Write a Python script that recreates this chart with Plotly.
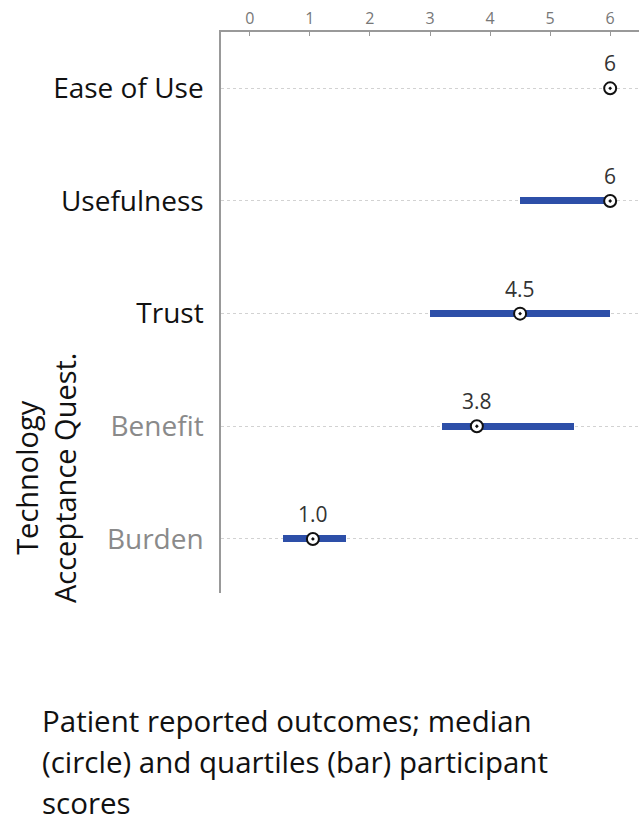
import plotly.graph_objects as go

categories = ["Burden", "Benefit", "Trust", "Usefulness", "Ease of Use"]
cat_colors = ["#8a8a8a", "#8a8a8a", "#111111", "#111111", "#111111"]
q1 = [0.55, 3.2, 3.0, 4.5, 6.0]
q3 = [1.6, 5.4, 6.0, 6.0, 6.0]
median = [1.05, 3.78, 4.5, 6.0, 6.0]
median_labels = ["1.0", "3.8", "4.5", "6", "6"]
x_ticks = [0, 1, 2, 3, 4, 5, 6]
ypos = list(range(len(categories)))

FONT = "Open Sans"
fig = go.Figure()

# quartile bars
fig.add_trace(go.Bar(
    y=ypos, x=[b - a for a, b in zip(q1, q3)], base=q1, orientation="h",
    width=0.062, marker=dict(color="#2d4fa8", line=dict(width=0)),
    hoverinfo="skip", showlegend=False,
))

# medians
fig.add_trace(go.Scatter(
    x=median, y=ypos, mode="markers",
    marker=dict(symbol="circle-dot", size=12, color="white",
                line=dict(color="#111111", width=2)),
    showlegend=False,
))

for xv, yv, t in zip(median, ypos, median_labels):
    fig.add_annotation(x=xv, y=yv, text=t, showarrow=False, yshift=25,
                       font=dict(family=FONT, size=21, color="#333333"))

fig.add_annotation(xref="paper", yref="paper", x=46/639, y=1-478/824,
                   text="Technology<br>Acceptance Quest.", textangle=-90,
                   showarrow=False, xanchor="center", yanchor="middle",
                   font=dict(family=FONT, size=29, color="#111111"))

caption = ["Patient reported outcomes; median",
           "(circle) and quartiles (bar) participant",
           "scores"]
for i, line in enumerate(caption):
    fig.add_annotation(xref="paper", yref="paper", x=40/639,
                       y=1-(720+41*i)/824, text=line, showarrow=False,
                       xanchor="left", yanchor="middle",
                       font=dict(family=FONT, size=29.5, color="#111111"))

fig.update_layout(
    width=639, height=824, margin=dict(l=0, r=0, t=0, b=0),
    plot_bgcolor="white", paper_bgcolor="white",
    bargap=0,
    xaxis=dict(domain=[221/639, 1.0], range=[-0.48, 6.48], side="top",
               tickvals=x_ticks, ticktext=[str(v) for v in x_ticks],
               ticks="inside", ticklen=4, tickcolor="#999999",
               showline=True, linecolor="#999999", linewidth=1.5,
               showgrid=False, zeroline=False,
               tickfont=dict(family=FONT, size=16, color="#777777")),
    xaxis2=dict(overlaying="x", matches="x", side="bottom", anchor="y",
                tickvals=x_ticks, showticklabels=False,
                ticks="inside", ticklen=5, tickcolor="#c8c8c8",
                showline=False, showgrid=False, zeroline=False),
    yaxis=dict(domain=[1-593/824, 1-32/824], range=[-0.48, 4.5],
               tickvals=ypos,
               ticktext=[f"<span style='color:{c}'>{t}</span>" for t, c in zip(categories, cat_colors)],
               ticks="", ticklabelstandoff=10,
               showline=True, linecolor="#999999", linewidth=1.5,
               showgrid=True, gridcolor="#d2d2d2", griddash="dot", gridwidth=1,
               zeroline=False,
               tickfont=dict(family=FONT, size=28, color="#111111")),
)

fig.write_html("out.html")
